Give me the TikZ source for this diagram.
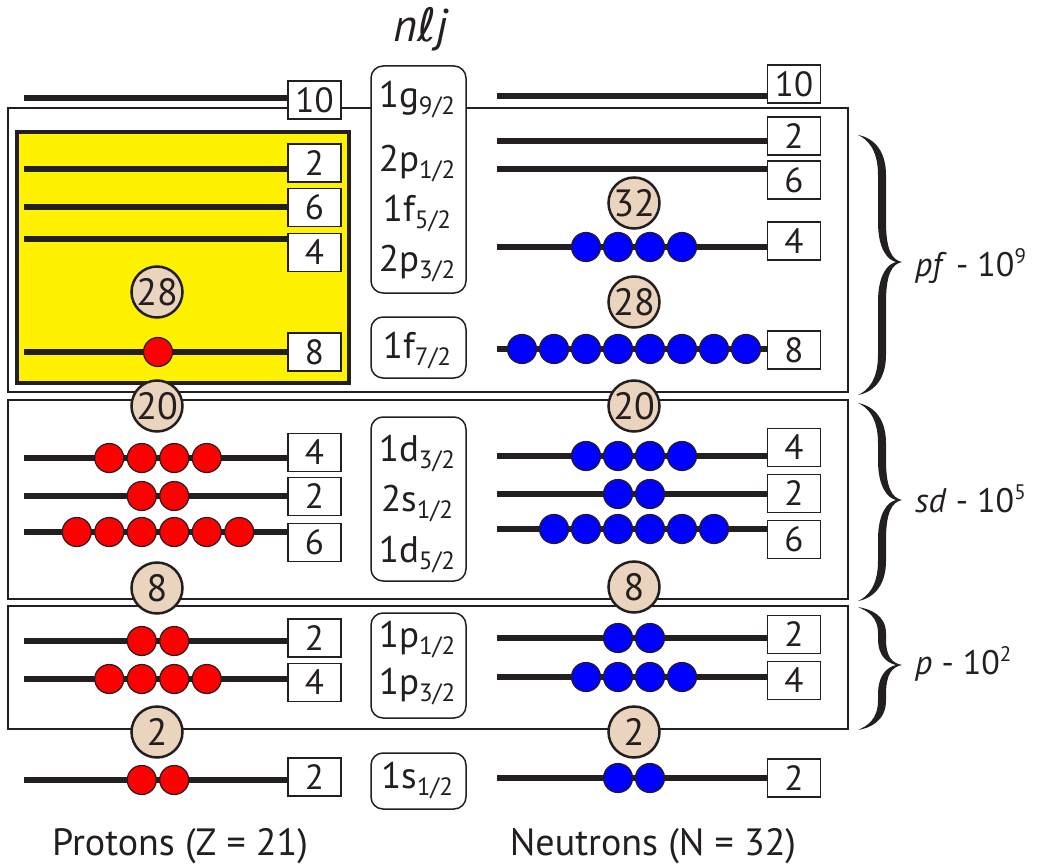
\documentclass[tikz,border=0pt]{standalone}
\usepackage{fontspec}
\setmainfont{PT Sans}
\newfontfamily\ellfont{DejaVu Sans}
\definecolor{ink}{HTML}{231F20}
\definecolor{magicfill}{HTML}{EBD4BE}
\definecolor{yel}{HTML}{FFF200}
\definecolor{pred}{HTML}{FF0000}
\definecolor{nblue}{HTML}{0000FF}
\newcommand\lsub[1]{\raisebox{-7pt}{\fontsize{25}{25}\selectfont #1}}
\newcommand\lsup[1]{\raisebox{13pt}{\fontsize{21}{21}\selectfont #1}}
\newcommand\dotrow[6]{% style, name, center x, y, count, spacing
  \foreach \k in {1,...,#5} {\node[#1] (#2-\k) at ({#3+(\k-(#5+1)/2)*#6},#4) {};}}
\newcommand\curlybrace[4]{% x left, y top, y mid, y bottom
  \pgfmathsetmacro\bs{#1+24}
  \pgfmathsetmacro\bcu{min(40,(#3-#2)/2.2)}
  \pgfmathsetmacro\bcd{min(40,(#4-#3)/2.2)}
  \fill[ink] (#1,#2)
    .. controls (#1+12,#2+2) and (\bs+4,#2+\bcu*0.3) .. (\bs+4,#2+\bcu)
    -- (\bs+4,#3-\bcu)
    .. controls (\bs+4,#3-\bcu*0.3) and (\bs+10,#3-2) .. (#1+44,#3)
    .. controls (\bs+10,#3+2) and (\bs+4,#3+\bcd*0.3) .. (\bs+4,#3+\bcd)
    -- (\bs+4,#4-\bcd)
    .. controls (\bs+4,#4-\bcd*0.3) and (#1+12,#4-2) .. (#1,#4)
    .. controls (#1+9,#4-4) and (\bs-4,#4-\bcd*0.35) .. (\bs-4,#4-\bcd)
    -- (\bs-4,#3+\bcd)
    .. controls (\bs-4,#3+\bcd*0.3) and (\bs+6,#3+2) .. (#1+38,#3)
    .. controls (\bs+6,#3-2) and (\bs-4,#3-\bcu*0.3) .. (\bs-4,#3-\bcu)
    -- (\bs-4,#2+\bcu)
    .. controls (\bs-4,#2+\bcu*0.35) and (#1+9,#2+4) .. (#1,#2) -- cycle;
}
\begin{document}
\begin{tikzpicture}[x=1pt,y=-1pt,
  eline/.style={line width=6pt, draw=ink},
  nbox/.style={draw=ink, line width=1.5pt, fill=white, minimum width=53pt, minimum height=38pt, inner sep=0pt, font=\fontsize{35}{35}\selectfont, text=ink},
  magic/.style={circle, draw=ink, line width=2.5pt, fill=magicfill, minimum size=51pt, inner sep=0pt, font=\fontsize{38}{38}\selectfont, text=ink},
  pdot/.style={circle, draw=ink, line width=1.2pt, fill=pred, minimum size=29pt, inner sep=0pt},
  ndot/.style={circle, draw=ink, line width=1.2pt, fill=nblue, minimum size=29pt, inner sep=0pt},
  shell/.style={draw=ink, line width=2pt},
  lbox/.style={draw=ink, line width=1.5pt, rounded corners=12pt, fill=white, minimum width=95pt, inner sep=0pt},
  ltext/.style={anchor=base, font=\fontsize{37}{37}\selectfont, text=ink, inner sep=0pt},
  ptext/.style={font=\fontsize{38}{38}\selectfont, text=ink, inner sep=0pt},
  btext/.style={anchor=west, font=\fontsize{34}{34}\selectfont, text=ink, inner sep=0pt},
]
\useasboundingbox (0,0) rectangle (1037,867);
\fill[white] (0,0) rectangle (1037,867);

% shells
\draw[shell] (8,108) rectangle (848,392);
\draw[shell] (8,400) rectangle (848,599);
\draw[shell] (8,606) rectangle (848,729);
\draw[draw=ink, line width=4pt, fill=yel] (17,132) rectangle (349,383);

% ---------- protons: level starts and boxes ----------
\coordinate (PLg) at (24,98);   \node[nbox] (PBg) at (314.5,100) {10};
\coordinate (PLp1) at (24,169); \node[nbox] (PBp1) at (314.5,163) {2};
\coordinate (PLf5) at (24,207); \node[nbox] (PBf5) at (314.5,207.5) {6};
\coordinate (PLp3) at (24,239); \node[nbox] (PBp3) at (314.5,252.5) {4};
\coordinate (PLf7) at (24,352); \node[nbox] (PBf7) at (314.5,352) {8};
\coordinate (PLd3) at (24,458); \node[nbox] (PBd3) at (314.5,452.5) {4};
\coordinate (PLs2) at (24,496); \node[nbox] (PBs2) at (314.5,496.5) {2};
\coordinate (PLd5) at (24,532); \node[nbox] (PBd5) at (314.5,542.5) {6};
\coordinate (PLq1) at (24,641); \node[nbox] (PBq1) at (314.5,638) {2};
\coordinate (PLq3) at (24,679); \node[nbox] (PBq3) at (314.5,682.5) {4};
\coordinate (PLs1) at (24,780); \node[nbox] (PBs1) at (314.5,777) {2};
\foreach \n in {g,p1,f5,p3,f7,d3,s2,d5,q1,q3,s1}
  \draw[eline] (PL\n) -- (PL\n -| PB\n.west);

% ---------- neutrons: level starts and boxes ----------
\coordinate (NLg) at (497,96);   \node[nbox] (NBg) at (794,84) {10};
\coordinate (NLp1) at (497,141); \node[nbox] (NBp1) at (794,136) {2};
\coordinate (NLf5) at (497,169); \node[nbox] (NBf5) at (794,180) {6};
\coordinate (NLp3) at (497,247); \node[nbox] (NBp3) at (794,241) {4};
\coordinate (NLf7) at (497,349); \node[nbox] (NBf7) at (794,350) {8};
\coordinate (NLd3) at (497,456); \node[nbox] (NBd3) at (794,447.5) {4};
\coordinate (NLs2) at (497,494); \node[nbox] (NBs2) at (794,493.5) {2};
\coordinate (NLd5) at (497,529); \node[nbox] (NBd5) at (794,539.5) {6};
\coordinate (NLq1) at (497,638); \node[nbox] (NBq1) at (794,634.5) {2};
\coordinate (NLq3) at (497,677); \node[nbox] (NBq3) at (794,680.5) {4};
\coordinate (NLs1) at (497,778); \node[nbox] (NBs1) at (794,778) {2};
\foreach \n in {g,p1,f5,p3,f7,d3,s2,d5,q1,q3,s1}
  \draw[eline] (NL\n) -- (NL\n -| NB\n.west);

% ---------- particles ----------
\dotrow{pdot}{pf7}{158}{352}{1}{32.5}
\dotrow{pdot}{pd3}{158}{458}{4}{32.5}
\dotrow{pdot}{ps2}{158}{496}{2}{32.5}
\dotrow{pdot}{pd5}{158}{532}{6}{32.5}
\dotrow{pdot}{pq1}{158}{641}{2}{32.5}
\dotrow{pdot}{pq3}{158}{679}{4}{32.5}
\dotrow{pdot}{ps1}{158}{780}{2}{32.5}

\dotrow{ndot}{np3}{634}{247}{4}{32}
\dotrow{ndot}{nf7}{634}{349}{8}{32}
\dotrow{ndot}{nd3}{634}{456}{4}{32}
\dotrow{ndot}{ns2}{634}{494}{2}{32}
\dotrow{ndot}{nd5}{634}{529}{6}{32}
\dotrow{ndot}{nq1}{634}{638}{2}{32}
\dotrow{ndot}{nq3}{634}{677}{4}{32}
\dotrow{ndot}{ns1}{634}{778}{2}{32}

% ---------- magic numbers ----------
\node[magic] (pm28) at (157,292) {28};
\node[magic] (pm20) at (157,406) {20};
\node[magic] (pm8)  at (157,588) {8};
\node[magic] (pm2)  at (157,732) {2};
\node[magic] (nm32) at (634,203) {32};
\node[magic] (nm28) at (634,302) {28};
\node[magic] (nm20) at (634,406) {20};
\node[magic] (nm8)  at (634,587) {8};
\node[magic] (nm2)  at (634,732) {2};

% ---------- orbital labels ----------
\node[lbox, minimum height=227pt] (LA) at (418.5,179.5) {};
\node[lbox, minimum height=61pt]  (LB) at (418.5,347.5) {};
\node[lbox, minimum height=164pt] (LC) at (418.5,499) {};
\node[lbox, minimum height=105pt] (LD) at (418.5,665.5) {};
\node[lbox, minimum height=56pt]  (LE) at (418.5,781) {};
\node[ltext] (tg9)  at (417,107) {1g\lsub{9/2}};
\node[ltext] (tp1)  at (417,171) {2p\lsub{1/2}};
\node[ltext] (tf5)  at (417,221) {1f\lsub{5/2}};
\node[ltext] (tp3)  at (417,271) {2p\lsub{3/2}};
\node[ltext] (tf7)  at (417,358) {1f\lsub{7/2}};
\node[ltext] (td3)  at (417,461) {1d\lsub{3/2}};
\node[ltext] (ts2)  at (417,511) {2s\lsub{1/2}};
\node[ltext] (td5)  at (417,562) {1d\lsub{5/2}};
\node[ltext] (tq1)  at (417,647) {1p\lsub{1/2}};
\node[ltext] (tq3)  at (417,694) {1p\lsub{3/2}};
\node[ltext] (ts1)  at (417,788) {1s\lsub{1/2}};

\node[anchor=base, font=\fontsize{46}{46}\selectfont, text=ink, inner sep=0pt] (title) at (421,42)
  {\itshape n{\ellfont\itshape ℓ}j};

% ---------- braces ----------
\curlybrace{858}{135}{262}{395}
\curlybrace{858}{403}{500}{601}
\curlybrace{858}{607}{665}{730}
\node[btext] (pflab) at (915,266) {\textit{pf} - 10\lsup{9}};
\node[btext] (sdlab) at (915,499) {\textit{sd} - 10\lsup{5}};
\node[btext] (plab)  at (915,664) {\textit{p} - 10\lsup{2}};

% ---------- footers ----------
\node[ptext] (protons)  at (180,846) {Protons (Z = 21)};
\node[ptext] (neutrons) at (653,846) {Neutrons (N = 32)};
\end{tikzpicture}
\end{document}
